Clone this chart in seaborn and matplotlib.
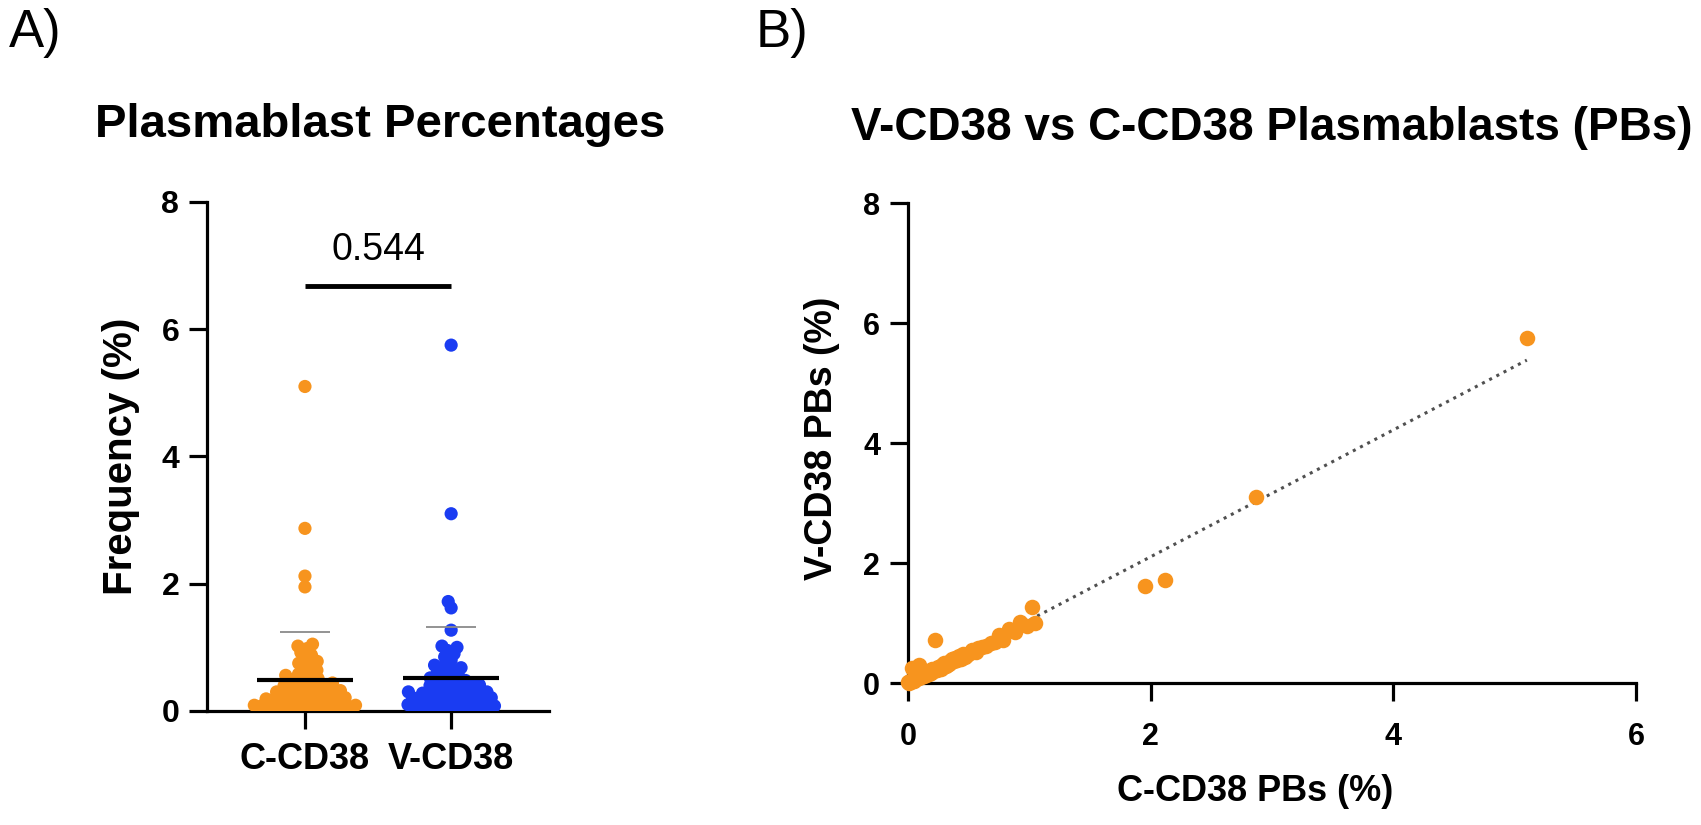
import numpy as np
import matplotlib
matplotlib.use('Agg')
import matplotlib.pyplot as plt
import pandas as pd
import seaborn as sns

sns.set_style("ticks")
plt.rcParams['font.family'] = ['Liberation Sans', 'DejaVu Sans']
plt.rcParams.update({"text.color": "black", "axes.labelcolor": "black",
                     "axes.edgecolor": "black", "xtick.color": "black",
                     "ytick.color": "black"})

groups = ["C-CD38", "V-CD38"]
# paired plasmablast percentages, one entry per sample
c_cd38 = [5.10, 2.87, 2.12, 1.95, 1.02, 1.05, 0.92, 0.98, 0.83, 0.88,
          0.72, 0.75, 0.78, 0.61, 0.64, 0.68, 0.51, 0.53, 0.56, 0.58,
          0.40, 0.42, 0.44, 0.45, 0.47, 0.49,
          0.30, 0.31, 0.32, 0.34, 0.35, 0.36, 0.38, 0.39,
          0.20, 0.21, 0.22, 0.23, 0.24, 0.25, 0.27, 0.28, 0.29,
          0.10, 0.11, 0.12, 0.13, 0.14, 0.15, 0.16, 0.17, 0.18, 0.19, 0.19,
          0.00, 0.01, 0.01, 0.02, 0.02, 0.03, 0.03, 0.04, 0.05, 0.05,
          0.06, 0.07, 0.08, 0.09, 0.09]
v_cd38 = [5.75, 3.10, 1.72, 1.62, 1.27, 1.00, 1.02, 0.95, 0.90, 0.85,
          0.68, 0.80, 0.72, 0.60, 0.62, 0.66, 0.50, 0.55, 0.52, 0.58,
          0.38, 0.45, 0.40, 0.48, 0.44, 0.47,
          0.34, 0.28, 0.30, 0.32, 0.37, 0.40, 0.36, 0.41,
          0.23, 0.20, 0.72, 0.21, 0.22, 0.27, 0.24, 0.30, 0.27,
          0.12, 0.10, 0.14, 0.11, 0.16, 0.13, 0.18, 0.15, 0.20, 0.17, 0.21,
          0.01, 0.00, 0.02, 0.03, 0.01, 0.04, 0.25, 0.03, 0.06, 0.04,
          0.07, 0.06, 0.10, 0.30, 0.08]
p_value = "0.544"
orange = "#F7941E"
blue = "#1A3CF2"

df = pd.DataFrame({"group": np.repeat(groups, len(c_cd38)),
                   "freq": c_cd38 + v_cd38})

fig = plt.figure(figsize=(17.01, 8.25), dpi=100)
axA = fig.add_axes([0.1217, 0.1382, 0.2011, 0.617])
axB = fig.add_axes([0.5338, 0.1721, 0.4280, 0.5818])

# ---- panel A: swarm with mean and SD
sns.swarmplot(data=df, x="group", y="freq", hue="group", palette=[orange, blue],
              size=5, ax=axA, legend=False, warn_thresh=1, zorder=3)
axA.set_ylim(0, 8)
axA.set_xlim(-0.67, 1.67)
# lay the swarm out once, then draw the dots larger so they merge like the original
fig.canvas.draw()
for coll in axA.collections:
    if "draw" in coll.__dict__:
        del coll.draw
    coll.set_sizes([9.5 ** 2])

for i, vals in enumerate([c_cd38, v_cd38]):
    m = np.mean(vals)
    sd = np.std(vals, ddof=1)
    axA.hlines(m, i - 0.33, i + 0.33, color="black", lw=3, zorder=5)
    axA.hlines(m + sd, i - 0.17, i + 0.17, color="#8a8a8a", lw=1.3, zorder=5)
axA.hlines(6.68, 0, 1, color="black", lw=3.5)
axA.text(0.5, 7.09, p_value, ha="center", va="baseline", fontsize=27)
axA.set_yticks([0, 2, 4, 6, 8])
axA.set_xlabel("")
axA.set_ylabel("Frequency (%)", fontsize=29, fontweight="bold")
axA.yaxis.set_label_coords(-0.196, 0.5)

# ---- panel B: correlation
sns.regplot(x=c_cd38, y=v_cd38, ci=None, ax=axB,
            scatter_kws=dict(s=125, color=orange, alpha=1, clip_on=False, zorder=3, linewidths=0),
            line_kws=dict(color="#505050", ls=":", lw=2.2, zorder=2))
axB.set_xlim(0, 6)
axB.set_ylim(0, 8)
axB.set_xticks([0, 2, 4, 6])
axB.set_yticks([0, 2, 4, 6, 8])
axB.set_xlabel("C-CD38 PBs (%)", fontsize=26, fontweight="bold")
axB.set_ylabel("V-CD38 PBs (%)", fontsize=27, fontweight="bold")
axB.xaxis.set_label_coords(0.477, -0.19)
axB.yaxis.set_label_coords(-0.093, 0.51)

for ax in (axA, axB):
    sns.despine(ax=ax)
    for s in ("left", "bottom"):
        ax.spines[s].set_linewidth(2.3)
    ax.tick_params(direction="out", length=13, width=2.3, pad=7)
    for lab in ax.get_xticklabels() + ax.get_yticklabels():
        lab.set_fontweight("bold")
axA.tick_params(axis="y", labelsize=23)
axA.tick_params(axis="x", labelsize=26, pad=9)
axB.tick_params(axis="y", labelsize=22)
axB.tick_params(axis="x", labelsize=22, pad=15)

fig.text(0.2234, 0.834, "Plasmablast Percentages", ha="center", va="baseline",
         fontsize=34, fontweight="bold")
fig.text(0.7478, 0.830, "V-CD38 vs C-CD38 Plasmablasts (PBs)", ha="center", va="baseline",
         fontsize=33, fontweight="bold")
fig.text(0.005, 0.943, "A)", ha="left", va="baseline", fontsize=38)
fig.text(0.444, 0.943, "B)", ha="left", va="baseline", fontsize=38)

fig.savefig("out.png", dpi=100)
